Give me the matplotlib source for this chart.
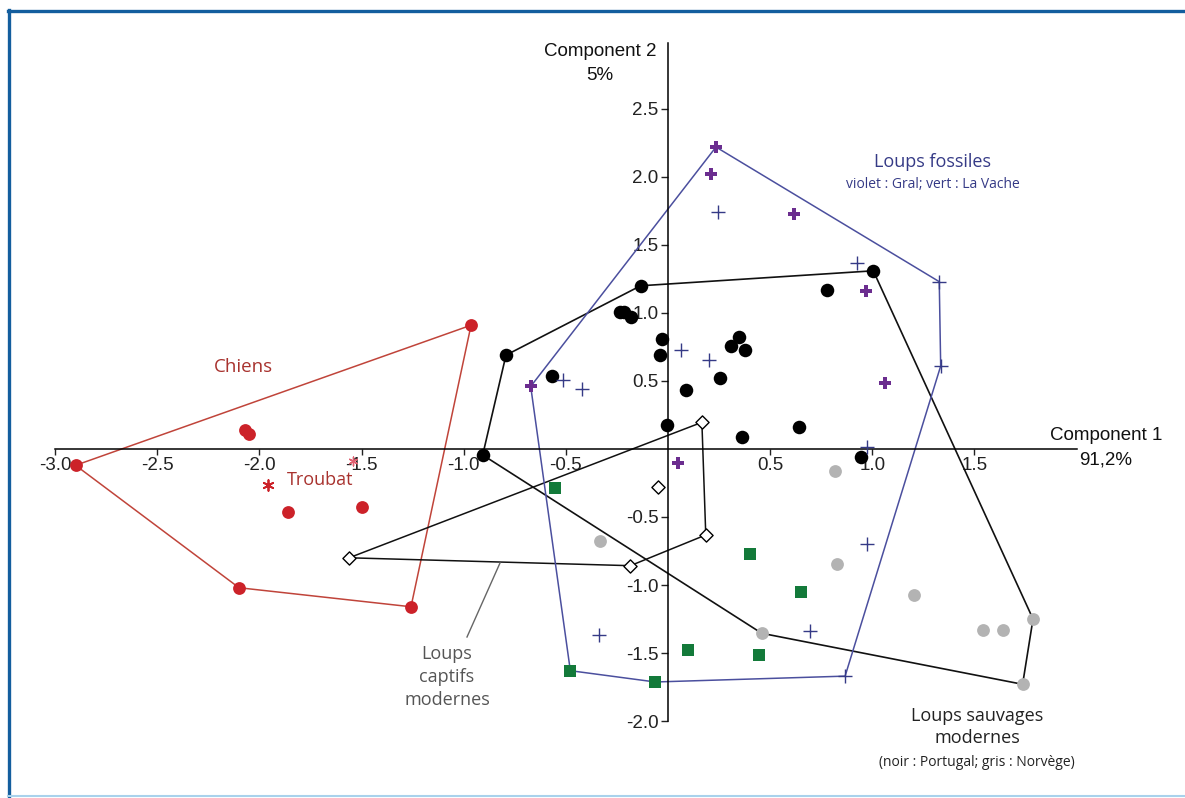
import matplotlib.pyplot as plt
from matplotlib.lines import Line2D

# --- data (PCA scores) ---
chiens_x = [-2.90, -0.964, -2.10, -1.258, -2.07, -2.05, -1.86, -1.50]
chiens_y = [-0.12, 0.91, -1.02, -1.16, 0.14, 0.11, -0.46, -0.43]
chiens_hull = [0, 1, 3, 2, 0]
troubat_x = [-1.96, -1.54]
troubat_y = [-0.265, -0.09]

portugal_x = [-0.134, 1.005, 0.78, -0.235, -0.215, -0.18, -0.03, -0.04, 0.347, 0.31,
              0.378, 0.253, 0.09, -0.57, -0.793, -0.006, 0.64, 0.36, 0.945, -0.907]
portugal_y = [1.20, 1.31, 1.17, 1.01, 1.01, 0.97, 0.81, 0.69, 0.82, 0.76,
              0.73, 0.52, 0.43, 0.54, 0.69, 0.18, 0.16, 0.086, -0.06, -0.044]
norvege_x = [0.818, -0.334, 0.829, 1.206, 0.459, 1.543, 1.642, 1.787, 1.736]
norvege_y = [-0.16, -0.68, -0.846, -1.076, -1.355, -1.33, -1.33, -1.25, -1.73]
# hull of modern wild wolves (Portugal + Norway)
sauvages_hull_x = [-0.907, -0.793, -0.134, 1.005, 1.787, 1.736, 0.459, -0.907]
sauvages_hull_y = [-0.044, 0.69, 1.20, 1.31, -1.25, -1.73, -1.355, -0.044]

captifs_x = [0.166, -0.049, 0.185, -0.184, -1.561]
captifs_y = [0.196, -0.277, -0.632, -0.858, -0.80]
captifs_hull = [4, 0, 2, 3, 4]

gral_x = [0.235, 0.209, 0.617, 0.97, 1.06, -0.672, 0.05]
gral_y = [2.22, 2.02, 1.725, 1.16, 0.485, 0.46, -0.105]
vache_x = [-0.553, 0.402, 0.652, 0.097, 0.447, -0.478, -0.062]
vache_y = [-0.29, -0.775, -1.05, -1.475, -1.517, -1.63, -1.713]
fossiles_x = [0.245, 0.924, 1.328, 1.335, 0.062, 0.202, -0.512, -0.419, 0.972,
              0.972, -0.34, 0.693, 0.867]
fossiles_y = [1.74, 1.365, 1.23, 0.61, 0.728, 0.654, 0.507, 0.443, 0.017,
              -0.696, -1.37, -1.34, -1.67]
fossiles_hull_x = [0.235, 1.328, 1.335, 0.867, -0.062, -0.478, -0.672, 0.235]
fossiles_hull_y = [2.22, 1.23, 0.61, -1.67, -1.713, -1.63, 0.46, 2.22]

xticks = [-3.0, -2.5, -2.0, -1.5, -1.0, -0.5, 0.5, 1.0, 1.5]
yticks = [2.5, 2.0, 1.5, 1.0, 0.5, -0.5, -1.0, -1.5, -2.0]

RED = '#cc2229'
RED_LINE = '#c0443a'
NAVY = '#353a86'
HULL_BLUE = '#4b4f9e'
PURPLE = '#6b2d8f'
GREEN = '#137a3a'
GREY = '#b3b3b3'

fig = plt.figure(figsize=(11.85, 7.98), dpi=100)
ax = fig.add_axes([0, 0, 1, 1])
ax.set_xlim(-3.270, 2.531)
ax.set_ylim(-2.566, 3.301)

for s in ['top', 'right']:
    ax.spines[s].set_visible(False)
ax.spines['left'].set_position(('data', 0))
ax.spines['bottom'].set_position(('data', 0))
ax.spines['bottom'].set_bounds(-3.0, 2.0)
ax.spines['left'].set_bounds(-2.0, 2.985)
ax.spines['left'].set_linewidth(1.1)
ax.spines['bottom'].set_linewidth(1.1)

ax.set_xticks(xticks, ['%.1f' % v for v in xticks], family='Liberation Sans')
ax.set_yticks(yticks, ['%.1f' % v for v in yticks], family='Liberation Sans')
ax.tick_params(axis='x', direction='out', length=4, width=1, pad=2, labelsize=13.5, colors='#222222')
ax.tick_params(axis='y', direction='out', length=5, width=1, pad=2, labelsize=13.5, colors='#222222')

# hulls
ax.plot([chiens_x[i] for i in chiens_hull], [chiens_y[i] for i in chiens_hull],
        color=RED_LINE, lw=1.1, zorder=2)
ax.plot(sauvages_hull_x, sauvages_hull_y, color='#111111', lw=1.2, zorder=2)
ax.plot([captifs_x[i] for i in captifs_hull], [captifs_y[i] for i in captifs_hull],
        color='#111111', lw=1.1, zorder=2)
ax.plot(fossiles_hull_x, fossiles_hull_y, color=HULL_BLUE, lw=1.1, zorder=2)

# points
ax.scatter(chiens_x, chiens_y, s=85, color=RED, zorder=4, linewidths=0)
ax.scatter(troubat_x[:1], troubat_y[:1], s=60, marker=(6, 2, 0), color=RED, lw=1.3, zorder=4)
ax.scatter(troubat_x[1:], troubat_y[1:], s=40, marker=(6, 2, 0), color='#e06070', lw=1.0, zorder=4)
ax.scatter(portugal_x, portugal_y, s=95, color='black', zorder=4, linewidths=0)
ax.scatter(norvege_x, norvege_y, s=85, color=GREY, zorder=4, linewidths=0)
ax.scatter(captifs_x, captifs_y, s=45, marker='D', facecolor='white', edgecolor='black',
           lw=1.0, zorder=4)
ax.scatter(gral_x, gral_y, s=80, marker='P', color=PURPLE, zorder=4, linewidths=0)
ax.scatter(vache_x, vache_y, s=85, marker='s', color=GREEN, zorder=4, linewidths=0)
ax.scatter(fossiles_x, fossiles_y, s=110, marker='+', color=NAVY, lw=1.0, zorder=4)

# axis titles
fig.text(1106 / 1185, 1 - 435 / 798, 'Component 1', ha='center', va='center',
         fontsize=13.5, family='Liberation Sans', color='#111111')
fig.text(1106 / 1185, 1 - 460 / 798, '91,2%', ha='center', va='center',
         fontsize=13.5, family='Liberation Sans', color='#111111')
fig.text(600 / 1185, 1 - 51 / 798, 'Component 2', ha='center', va='center',
         fontsize=13.5, family='Liberation Sans', color='#111111')
fig.text(600 / 1185, 1 - 75 / 798, '5%', ha='center', va='center',
         fontsize=13.5, family='Liberation Sans', color='#111111')

# group labels
fig.text(243 / 1185, 1 - 367 / 798, 'Chiens', ha='center', va='center',
         fontsize=13.5, family='Open Sans', color='#a8322e')
fig.text(320 / 1185, 1 - 480 / 798, 'Troubat', ha='center', va='center',
         fontsize=13, family='Open Sans', color='#a8322e')
fig.text(933 / 1185, 1 - 162 / 798, 'Loups fossiles', ha='center', va='center',
         fontsize=13, family='Open Sans', color=NAVY)
fig.text(933 / 1185, 1 - 184 / 798, 'violet : Gral; vert : La Vache', ha='center', va='center',
         fontsize=10, family='Open Sans', color=NAVY)
fig.text(977 / 1185, 1 - 727 / 798, 'Loups sauvages\nmodernes', ha='center', va='center',
         fontsize=13, family='Open Sans', color='#222222', linespacing=1.3)
fig.text(977 / 1185, 1 - 762 / 798, '(noir : Portugal; gris : Norvège)', ha='center', va='center',
         fontsize=10, family='Open Sans', color='#222222')
fig.text(447 / 1185, 1 - 677 / 798, 'Loups\ncaptifs\nmodernes', ha='center', va='center',
         fontsize=13, family='Open Sans', color='#555555', linespacing=1.35)
fig.add_artist(Line2D([500 / 1185, 467 / 1185], [1 - 563 / 798, 1 - 637 / 798],
                      color='#666666', lw=1.0))

# blue frame of the original figure
fig.add_artist(Line2D([8 / 1185, 1], [1 - 11 / 798, 1 - 11 / 798], color='#135e9e', lw=2.4))
fig.add_artist(Line2D([9 / 1185, 9 / 1185], [1 - 10 / 798, 0], color='#135e9e', lw=2.4))
fig.add_artist(Line2D([8 / 1185, 1], [2 / 798, 2 / 798], color='#a9d2ec', lw=1.5))

fig.savefig('out.png', dpi=100)
